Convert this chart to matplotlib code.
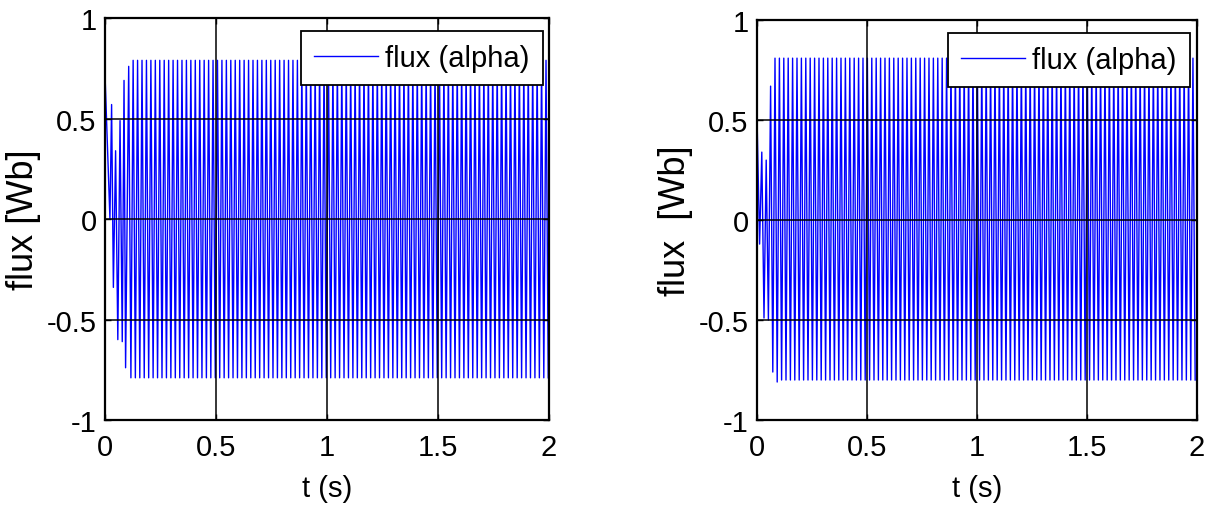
# coding=utf-8
"""
Two panels of the alpha flux of a machine, 0..2 s, MATLAB-like look.
"""
import numpy as np
import matplotlib
matplotlib.use('Agg')
import matplotlib.pyplot as plt

# start-up transient, peaks (time s, flux Wb)
left_peak_t = [0.0, 0.0225, 0.030, 0.038, 0.048, 0.058, 0.068, 0.078, 0.086, 0.093, 0.107]
left_peak_v = [0.73, 0.0, 0.57, -0.34, 0.34, -0.60, 0.49, -0.61, 0.69, -0.74, 0.76]
right_peak_t = [0.0, 0.012, 0.022, 0.032, 0.042, 0.052, 0.062, 0.072, 0.082, 0.092]
right_peak_v = [0.53, -0.12, 0.34, -0.49, 0.30, -0.50, 0.67, -0.76, 0.81, -0.81]

# steady-state peak levels after the transient
left_steady = (0.79, -0.79)
right_steady = (0.81, -0.80)
half_period = 0.01  # 50 Hz supply

x_ticks = [0, 0.5, 1, 1.5, 2]
x_tick_labels = ['0', '0.5', '1', '1.5', '2']
y_ticks = [-1, -0.5, 0, 0.5, 1]
y_tick_labels = ['-1', '-0.5', '0', '0.5', '1']

legend_label = 'flux (alpha)'
x_label = 't (s)'
left_y_label = 'flux [Wb]'
right_y_label = 'flux  [Wb]'

font = ['Liberation Sans', 'DejaVu Sans']
tick_font_size = 21
x_label_size = 21
y_label_size = 26


def peak_series(peak_t, peak_v, steady):
    # join the transient peaks with the steady peaks up to t = 2 s
    t = list(peak_t)
    v = list(peak_v)
    # next steady peak has the opposite sign of the last transient one
    k = 1 if v[-1] > 0 else 0
    tt = t[-1] + half_period
    while tt <= 2.0 + 1e-9:
        t.append(tt)
        v.append(steady[k % 2])
        k += 1
        tt += half_period
    return np.array(t), np.array(v)


def make_panel(fig, rect, t, v, y_label, legend_anchor):
    ax = fig.add_axes(rect)
    ax.plot(t, v, color='blue', linewidth=1.0, label=legend_label)
    ax.set_xlim(0, 2)
    ax.set_ylim(-1, 1)
    ax.set_xticks(x_ticks)
    ax.set_xticklabels(x_tick_labels, fontfamily=font, fontsize=tick_font_size)
    ax.set_yticks(y_ticks)
    ax.set_yticklabels(y_tick_labels, fontfamily=font, fontsize=tick_font_size)
    ax.tick_params(direction='in', length=4, width=1, top=True, right=True)
    ax.tick_params(axis='x', pad=9)
    ax.tick_params(axis='y', pad=6)
    ax.set_axisbelow(False)
    ax.grid(True, color='black', linewidth=1.1, linestyle='-')
    for s in ax.spines.values():
        s.set_linewidth(1.6)
    ax.set_xlabel(x_label, fontfamily=font, fontsize=x_label_size, labelpad=10)
    ax.set_ylabel(y_label, fontfamily=font, fontsize=y_label_size, labelpad=4)
    leg = ax.legend(loc='upper right', bbox_to_anchor=legend_anchor, borderaxespad=0,
                    prop={'family': font, 'size': tick_font_size},
                    fancybox=False, framealpha=1, edgecolor='black', handlelength=2.2,
                    handletextpad=0.25, borderpad=0.45)
    leg.get_frame().set_linewidth(1.3)
    return ax


def main():
    fig = plt.figure(figsize=(12.16, 5.10), dpi=100)
    t, v = peak_series(left_peak_t, left_peak_v, left_steady)
    make_panel(fig, [0.0863, 0.1745, 0.3651, 0.788], t, v, left_y_label, (0.9865, 0.9677))
    t, v = peak_series(right_peak_t, right_peak_v, right_steady)
    make_panel(fig, [0.6225, 0.1745, 0.3618, 0.784], t, v, right_y_label, (0.984, 0.9675))
    fig.savefig('out.png', dpi=100)


if __name__ == '__main__':
    main()
